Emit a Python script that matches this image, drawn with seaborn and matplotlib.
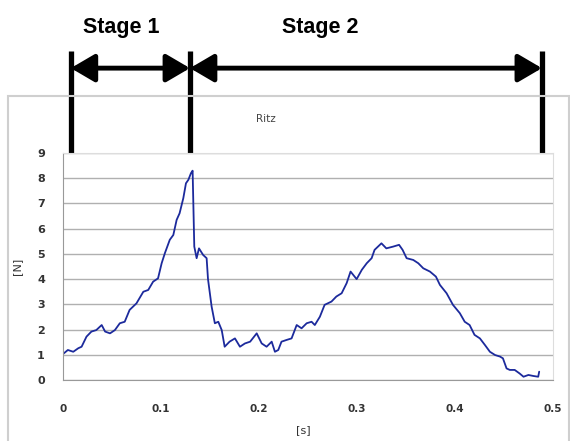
import numpy as np
import pandas as pd
import matplotlib
matplotlib.use("Agg")
import matplotlib.pyplot as plt
import matplotlib.transforms as mtransforms
from matplotlib.patches import Rectangle
import seaborn as sns

# force curve
t_s = [0.000, 0.005, 0.0105, 0.0156, 0.019, 0.024, 0.029, 0.034, 0.0395, 0.043,
       0.048, 0.053, 0.058, 0.063, 0.068, 0.075, 0.082, 0.087, 0.092, 0.097,
       0.1007, 0.104, 0.109, 0.1126, 0.116, 0.119, 0.1228, 0.1255, 0.128, 0.1306,
       0.1323, 0.134, 0.1364, 0.1388, 0.143, 0.1466, 0.148, 0.1517, 0.155, 0.1585,
       0.162, 0.165, 0.170, 0.1755, 0.1806, 0.1857, 0.191, 0.1977, 0.2028, 0.2078,
       0.213, 0.2163, 0.2197, 0.223, 0.2283, 0.2333, 0.2385, 0.2435, 0.2487, 0.2537,
       0.257, 0.2622, 0.267, 0.274, 0.279, 0.2844, 0.2895, 0.2935, 0.2997, 0.305,
       0.31, 0.315, 0.318, 0.325, 0.33, 0.337, 0.343, 0.3466, 0.3507, 0.3575,
       0.3626, 0.3677, 0.3745, 0.3806, 0.3847, 0.3915, 0.398, 0.405, 0.410, 0.415,
       0.420, 0.4255, 0.4306, 0.4357, 0.441, 0.446, 0.449, 0.4527, 0.456, 0.461,
       0.466, 0.47, 0.475, 0.48, 0.485, 0.486]
force_n = [1.03, 1.19, 1.12, 1.26, 1.32, 1.72, 1.92, 1.98, 2.18, 1.92,
           1.85, 1.98, 2.25, 2.31, 2.78, 3.04, 3.5, 3.57, 3.9, 4.03,
           4.63, 5.03, 5.56, 5.75, 6.35, 6.61, 7.21, 7.8, 7.94, 8.2,
           8.3, 5.29, 4.83, 5.22, 4.96, 4.83, 4.0, 2.91, 2.25, 2.31,
           1.98, 1.32, 1.52, 1.65, 1.32, 1.45, 1.52, 1.85, 1.45, 1.32,
           1.52, 1.12, 1.19, 1.52, 1.59, 1.65, 2.18, 2.05, 2.25, 2.31,
           2.18, 2.51, 2.98, 3.11, 3.31, 3.44, 3.84, 4.3, 4.0, 4.37,
           4.63, 4.83, 5.16, 5.42, 5.22, 5.29, 5.36, 5.16, 4.83, 4.76,
           4.63, 4.43, 4.3, 4.1, 3.77, 3.44, 2.98, 2.65, 2.31, 2.18,
           1.79, 1.65, 1.39, 1.12, 0.99, 0.93, 0.86, 0.46, 0.4, 0.4,
           0.26, 0.13, 0.2, 0.16, 0.13, 0.33]

# stage boundaries (s) and labels
stage_edges = [0.008, 0.1296, 0.4888]
stage_labels = ["Stage 1", "Stage 2"]
x_ticks = [0, 0.1, 0.2, 0.3, 0.4, 0.5]
x_labels = ["0", "0.1", "0.2", "0.3", "0.4", "0.5"]
y_ticks = list(range(10))

df = pd.DataFrame({"t": t_s, "F": force_n})

sns.set_style("white")
plt.rcParams["font.family"] = ["DejaVu Sans"]

fig = plt.figure(figsize=(5.7, 4.41), dpi=100)
ax = fig.add_axes([0.1105, 0.1383, 0.8595, 0.5147])

# outer chart frame
fig.patches.append(Rectangle((0.014, -0.02), 0.984, 0.802, transform=fig.transFigure,
                             fill=False, edgecolor="#cfcfcf", lw=1.5, zorder=0))

sns.lineplot(data=df, x="t", y="F", ax=ax, color="#1c2a9c", lw=1.3, estimator=None)

ax.set_xlim(0, 0.5)
ax.set_ylim(0, 9)
ax.set_xticks(x_ticks)
ax.set_xticklabels(x_labels)
ax.set_yticks(y_ticks)
ax.yaxis.grid(True, color="#b0b0b0", lw=1)
ax.set_axisbelow(True)
ax.tick_params(axis="x", direction="in", length=3, color="#aaaaaa", pad=17,
               labelsize=7.5, labelcolor="#333333")
ax.tick_params(axis="y", length=0, pad=13, labelsize=8, labelcolor="#333333")
for lab in ax.get_xticklabels() + ax.get_yticklabels():
    lab.set_fontweight("bold")
for side in ["left", "bottom"]:
    ax.spines[side].set_color("#999999")
for side in ["top", "right"]:
    ax.spines[side].set_color("#dddddd")
ax.set_xlabel("[s]", fontsize=8, color="#333333")
ax.xaxis.set_label_coords(0.49, -0.2)
ax.set_ylabel("[N]", fontsize=8, color="#333333")
ax.yaxis.set_label_coords(-0.084, 0.5)

trans = mtransforms.blended_transform_factory(ax.transData, ax.transAxes)
ax.text(0.207, 1.15, "Ritz", transform=trans,
        ha="center", va="center", fontsize=7.5, color="#444444")

# stage markers above the plot
ax.vlines(stage_edges, 1.0, 1.449, transform=trans, color="black", lw=3.8, clip_on=False)
for i, lab in enumerate(stage_labels):
    x0, x1 = stage_edges[i], stage_edges[i + 1]
    ax.annotate("", xy=(x1, 1.374), xytext=(x0, 1.374), xycoords=trans, textcoords=trans,
                arrowprops=dict(arrowstyle="<|-|>,head_length=1.45,head_width=0.85",
                                color="black", lw=3.5, shrinkA=0, shrinkB=0))
label_x = [0.059, 0.263]
for lx, lab in zip(label_x, stage_labels):
    ax.text(lx, 1.555, lab, transform=trans, ha="center", va="center", fontsize=15.5,
            fontweight="bold", family="Liberation Sans", color="black")

fig.savefig("out.png", dpi=100)
